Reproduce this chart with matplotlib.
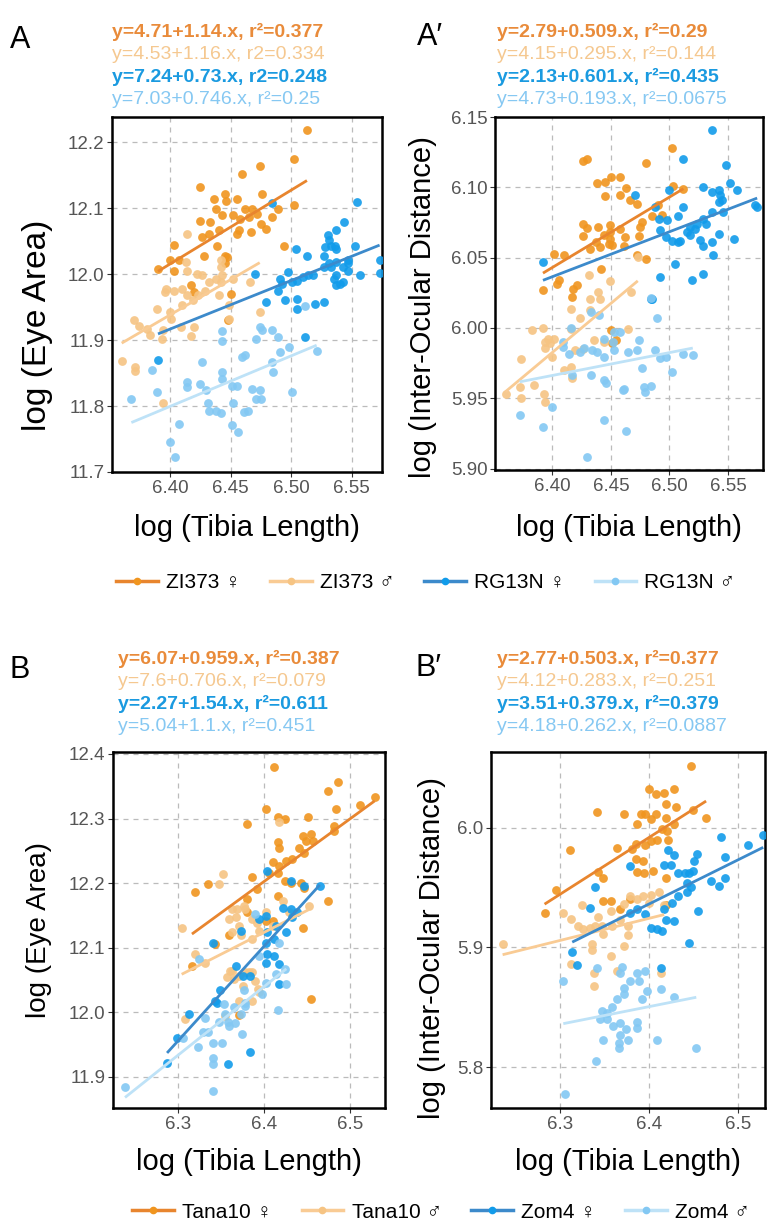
import matplotlib.pyplot as plt
import numpy as np
from matplotlib.lines import Line2D

plt.rcParams['font.family'] = ['Liberation Sans', 'DejaVu Sans']

W, H = 767, 1224

# ---- data ----
# panel A: log(Eye Area) vs log(Tibia Length)
a_zi_f = [(6.513, 12.218), (6.474, 12.164), (6.459, 12.152), (6.502, 12.174), (6.425, 12.132), (6.436, 12.114),
          (6.445, 12.122), (6.446, 12.110), (6.438, 12.099), (6.455, 12.113), (6.462, 12.099), (6.468, 12.099),
          (6.476, 12.122), (6.425, 12.081), (6.433, 12.079), (6.443, 12.089), (6.452, 12.090), (6.458, 12.084),
          (6.465, 12.086), (6.472, 12.091), (6.484, 12.086), (6.489, 12.099), (6.502, 12.104), (6.426, 12.056),
          (6.432, 12.061), (6.440, 12.066), (6.455, 12.061), (6.457, 12.066), (6.467, 12.064), (6.475, 12.076),
          (6.479, 12.069), (6.403, 12.044), (6.439, 12.042), (6.494, 12.043), (6.428, 12.028), (6.445, 12.028),
          (6.400, 12.021), (6.390, 12.008), (6.407, 12.021), (6.403, 12.005), (6.417, 11.983), (6.420, 11.973),
          (6.450, 11.970), (6.445, 12.016), (6.447, 12.026), (6.448, 11.931)]
a_zi_m = [(6.414, 12.060), (6.389, 11.947), (6.370, 11.931), (6.374, 11.922), (6.381, 11.916), (6.393, 11.902),
          (6.394, 11.915), (6.409, 11.920), (6.417, 11.906), (6.400, 11.942), (6.401, 11.932), (6.410, 11.953),
          (6.414, 11.968), (6.419, 11.960), (6.423, 11.968), (6.429, 11.975), (6.432, 11.988), (6.438, 11.993),
          (6.442, 11.988), (6.443, 11.998), (6.452, 11.992), (6.440, 11.968), (6.426, 11.998), (6.422, 12.000),
          (6.414, 12.005), (6.410, 11.978), (6.396, 11.973), (6.397, 11.978), (6.403, 11.975), (6.360, 11.868),
          (6.371, 11.859), (6.371, 11.853), (6.394, 11.804), (6.466, 11.988), (6.474, 11.942), (6.449, 11.932),
          (6.442, 12.011), (6.442, 12.021), (6.449, 11.953), (6.383, 11.907), (6.413, 12.018), (6.420, 11.920)]
a_rg_f = [(6.484, 12.108), (6.554, 12.109), (6.544, 12.079), (6.537, 12.066), (6.530, 12.059), (6.531, 12.051),
          (6.533, 12.043), (6.536, 12.043), (6.537, 12.038), (6.528, 12.041), (6.553, 12.043), (6.513, 12.028),
          (6.504, 12.038), (6.527, 12.028), (6.547, 12.022), (6.543, 12.011), (6.537, 12.018), (6.531, 12.016),
          (6.527, 12.011), (6.533, 12.011), (6.547, 12.016), (6.573, 12.021), (6.573, 12.002), (6.557, 11.998),
          (6.547, 12.004), (6.537, 11.998), (6.535, 11.993), (6.537, 11.983), (6.540, 11.985), (6.543, 11.988),
          (6.518, 11.999), (6.514, 11.998), (6.510, 11.995), (6.505, 11.990), (6.501, 11.988), (6.497, 12.003),
          (6.491, 11.993), (6.492, 11.985), (6.489, 11.975), (6.495, 11.960), (6.505, 11.962), (6.505, 11.947),
          (6.520, 11.955), (6.527, 11.957), (6.479, 11.958), (6.470, 12.000), (6.511, 11.905), (6.390, 11.869)]
a_rg_m = [(6.368, 11.811), (6.389, 11.821), (6.385, 11.854), (6.400, 11.745), (6.404, 11.723), (6.407, 11.772),
          (6.414, 11.836), (6.414, 11.829), (6.425, 11.834), (6.426, 11.867), (6.430, 11.824), (6.431, 11.805),
          (6.432, 11.793), (6.438, 11.793), (6.442, 11.789), (6.443, 11.851), (6.443, 11.841), (6.443, 11.913),
          (6.443, 11.899), (6.451, 11.831), (6.455, 11.831), (6.451, 11.771), (6.456, 11.761), (6.452, 11.804),
          (6.459, 11.874), (6.462, 11.877), (6.464, 11.793), (6.461, 11.791), (6.468, 11.826), (6.471, 11.811),
          (6.474, 11.824), (6.475, 11.811), (6.474, 11.920), (6.476, 11.915), (6.471, 11.902), (6.484, 11.915),
          (6.484, 11.867), (6.485, 11.851), (6.489, 11.905), (6.491, 11.882), (6.498, 11.889), (6.501, 11.821),
          (6.511, 11.952), (6.521, 11.883)]

# panel A': log(Inter-Ocular Distance) vs log(Tibia Length)
ap_zi_f = [(6.426, 6.1185), (6.430, 6.1204), (6.438, 6.1033), (6.445, 6.1038), (6.450, 6.1073), (6.458, 6.1073),
           (6.445, 6.0938), (6.458, 6.0948), (6.463, 6.0995), (6.466, 6.0908), (6.472, 6.0884), (6.480, 6.1175),
           (6.502, 6.1279), (6.503, 6.1009), (6.512, 6.0991), (6.490, 6.0877), (6.485, 6.0796), (6.494, 6.0801),
           (6.477, 6.0754), (6.475, 6.0718), (6.474, 6.0652), (6.462, 6.0647), (6.458, 6.0706), (6.449, 6.0730),
           (6.449, 6.0683), (6.449, 6.0635), (6.444, 6.0659), (6.439, 6.0718), (6.437, 6.0612), (6.432, 6.0564),
           (6.426, 6.0742), (6.426, 6.0654), (6.430, 6.0711), (6.441, 6.0576), (6.448, 6.0600), (6.451, 6.0593),
           (6.461, 6.0583), (6.472, 6.0522), (6.480, 6.0493), (6.401, 6.0529), (6.410, 6.0522), (6.406, 6.0339),
           (6.404, 6.0316), (6.392, 6.0268), (6.442, 6.0422), (6.418, 6.0280), (6.421, 6.0304), (6.417, 6.0221),
           (6.450, 5.9984), (6.451, 5.9890), (6.454, 5.9913)]
ap_zi_m = [(6.360, 5.9527), (6.373, 5.9778), (6.372, 5.9582), (6.373, 5.9499), (6.384, 5.9594), (6.383, 5.9984),
           (6.392, 6.0001), (6.394, 5.9854), (6.396, 5.9925), (6.394, 5.9901), (6.398, 5.9890), (6.401, 5.9925),
           (6.400, 5.9795), (6.393, 5.9527), (6.394, 5.9470), (6.410, 5.9700), (6.416, 5.9996), (6.416, 5.9724),
           (6.417, 5.9641), (6.416, 6.0138), (6.419, 5.9842), (6.424, 6.0072), (6.426, 5.9849), (6.431, 6.0375),
           (6.432, 6.0209), (6.432, 6.0126), (6.436, 5.9913), (6.439, 6.0257), (6.441, 6.0209), (6.444, 5.9901),
           (6.449, 6.0332), (6.465, 5.9991), (6.473, 6.0505), (6.467, 6.0257)]
ap_rg_f = [(6.392, 6.0470), (6.471, 6.0948), (6.488, 6.0860), (6.491, 6.0777), (6.498, 6.0766), (6.497, 6.0647),
           (6.492, 6.0695), (6.502, 6.0616), (6.507, 6.0612), (6.509, 6.0616), (6.505, 6.0458), (6.512, 6.1199),
           (6.512, 6.0860), (6.507, 6.0796), (6.500, 6.0979), (6.492, 6.0363), (6.519, 6.0339), (6.529, 6.0387),
           (6.536, 6.1405), (6.529, 6.1002), (6.536, 6.0967), (6.542, 6.0979), (6.543, 6.0948), (6.545, 6.0908),
           (6.542, 6.0896), (6.548, 6.1156), (6.552, 6.1033), (6.558, 6.0979), (6.573, 6.0872), (6.575, 6.0860),
           (6.555, 6.0635), (6.546, 6.0825), (6.536, 6.0825), (6.529, 6.0777), (6.531, 6.0742), (6.524, 6.0742),
           (6.518, 6.0718), (6.518, 6.0659), (6.526, 6.0624), (6.536, 6.0612), (6.537, 6.0517), (6.529, 6.0583),
           (6.542, 6.0671), (6.522, 6.0707), (6.515, 6.0683), (6.484, 6.0209), (6.485, 6.0205)]
ap_rg_m = [(6.372, 5.9380), (6.392, 5.9298), (6.400, 5.9440), (6.430, 5.9085), (6.463, 5.9267), (6.444, 5.9345),
           (6.444, 5.9629), (6.446, 5.9606), (6.460, 5.9558), (6.461, 5.9563), (6.433, 5.9665), (6.417, 5.9665),
           (6.409, 5.9866), (6.409, 5.9901), (6.414, 5.9818), (6.424, 5.9830), (6.427, 5.9854), (6.434, 5.9842),
           (6.438, 5.9830), (6.444, 5.9925), (6.444, 5.9795), (6.453, 5.9842), (6.452, 5.9901), (6.453, 5.9973),
           (6.458, 5.9973), (6.465, 5.9830), (6.472, 5.9842), (6.474, 5.9913), (6.477, 5.9712), (6.478, 5.9582),
           (6.479, 5.9546), (6.484, 5.9587), (6.484, 6.0210), (6.489, 6.0072), (6.488, 5.9842), (6.492, 5.9783),
           (6.497, 5.9795), (6.502, 5.9688), (6.512, 5.9818), (6.520, 5.9807), (6.433, 6.0115), (6.440, 6.0091),
           (6.416, 6.0000)]

# panel B: log(Eye Area) vs log(Tibia Length)
b_ta_f = [(6.412, 12.380), (6.475, 12.342), (6.486, 12.356), (6.529, 12.334), (6.512, 12.321), (6.484, 12.315),
          (6.402, 12.315), (6.380, 12.291), (6.416, 12.302), (6.424, 12.300), (6.451, 12.303), (6.482, 12.289),
          (6.482, 12.281), (6.445, 12.273), (6.449, 12.265), (6.455, 12.276), (6.457, 12.265), (6.441, 12.255),
          (6.447, 12.247), (6.433, 12.237), (6.426, 12.235), (6.416, 12.263), (6.418, 12.255), (6.410, 12.232),
          (6.418, 12.227), (6.406, 12.216), (6.416, 12.216), (6.424, 12.204), (6.431, 12.201), (6.443, 12.201),
          (6.447, 12.193), (6.386, 12.209), (6.392, 12.191), (6.416, 12.180), (6.380, 12.175), (6.380, 12.155),
          (6.335, 12.198), (6.320, 12.186), (6.475, 12.173), (6.445, 12.131), (6.402, 12.142), (6.410, 12.142),
          (6.359, 12.119), (6.316, 12.072), (6.343, 12.106), (6.371, 11.996), (6.455, 12.020)]
b_ta_m = [(6.304, 12.130), (6.347, 12.198), (6.352, 12.214), (6.418, 12.295), (6.422, 12.173), (6.363, 12.160),
          (6.369, 12.160), (6.367, 12.147), (6.377, 12.164), (6.378, 12.160), (6.359, 12.144), (6.371, 12.134),
          (6.386, 12.144), (6.392, 12.139), (6.363, 12.124), (6.373, 12.119), (6.386, 12.113), (6.394, 12.126),
          (6.402, 12.155), (6.410, 12.134), (6.429, 12.155), (6.320, 12.090), (6.331, 12.077), (6.357, 12.054),
          (6.363, 12.064), (6.375, 12.041), (6.382, 12.062), (6.390, 12.049), (6.394, 12.031), (6.386, 12.018),
          (6.371, 12.018), (6.308, 11.990), (6.354, 11.995), (6.360, 12.064), (6.371, 12.057), (6.378, 12.062),
          (6.386, 12.062), (6.365, 12.052), (6.393, 12.036), (6.452, 12.165)]
b_zo_f = [(6.404, 12.219), (6.431, 12.204), (6.447, 12.196), (6.465, 12.195), (6.422, 12.162), (6.431, 12.160),
          (6.439, 12.155), (6.433, 12.147), (6.394, 12.145), (6.402, 12.149), (6.414, 12.134), (6.426, 12.125),
          (6.404, 12.124), (6.412, 12.113), (6.402, 12.108), (6.404, 12.090), (6.412, 12.088), (6.418, 12.075),
          (6.402, 12.077), (6.341, 12.108), (6.373, 12.126), (6.367, 12.072), (6.384, 12.057), (6.375, 12.057),
          (6.349, 12.034), (6.343, 12.018), (6.418, 12.044), (6.299, 11.960), (6.312, 11.998), (6.287, 11.921),
          (6.345, 12.014), (6.358, 11.920), (6.384, 11.938)]
b_zo_m = [(6.324, 12.082), (6.394, 12.088), (6.418, 12.108), (6.424, 12.067), (6.414, 12.059), (6.426, 12.044),
          (6.402, 12.046), (6.398, 12.028), (6.377, 12.034), (6.378, 12.015), (6.365, 12.008), (6.353, 12.013),
          (6.355, 11.997), (6.347, 11.985), (6.335, 11.969), (6.359, 11.979), (6.331, 11.992), (6.416, 12.003),
          (6.390, 12.153), (6.238, 11.884), (6.341, 11.878), (6.340, 11.930), (6.340, 11.920), (6.323, 11.947),
          (6.351, 11.952), (6.340, 11.952), (6.374, 11.967), (6.366, 11.983), (6.358, 11.985), (6.378, 12.010),
          (6.329, 11.969), (6.306, 11.961), (6.373, 11.997)]

# panel B': log(Inter-Ocular Distance) vs log(Tibia Length)
bp_ta_f = [(6.283, 5.929), (6.296, 5.948), (6.311, 5.981), (6.342, 6.013), (6.343, 5.963), (6.349, 5.958),
           (6.364, 5.983), (6.372, 6.011), (6.385, 5.986), (6.381, 5.982), (6.385, 5.974), (6.396, 6.011),
           (6.387, 6.003), (6.391, 6.011), (6.400, 6.032), (6.402, 6.007), (6.408, 6.011), (6.408, 6.028),
           (6.417, 6.029), (6.419, 6.020), (6.419, 6.008), (6.415, 5.999), (6.420, 5.997), (6.421, 5.990),
           (6.409, 5.990), (6.402, 5.989), (6.396, 5.985), (6.428, 6.032), (6.430, 6.017), (6.428, 6.003),
           (6.447, 6.051), (6.449, 6.015), (6.464, 6.008), (6.387, 5.963), (6.394, 5.962), (6.404, 5.964),
           (6.393, 5.972), (6.419, 5.958), (6.349, 5.939), (6.357, 5.939), (6.368, 5.932), (6.379, 5.940),
           (6.419, 5.935)]
bp_ta_m = [(6.236, 5.903), (6.313, 5.886), (6.325, 5.935), (6.313, 5.924), (6.321, 5.918), (6.326, 5.915),
           (6.334, 5.916), (6.340, 5.918), (6.343, 5.925), (6.347, 5.918), (6.349, 5.911), (6.336, 5.903),
           (6.336, 5.898), (6.338, 5.879), (6.338, 5.868), (6.357, 5.893), (6.359, 5.918), (6.357, 5.930),
           (6.368, 5.923), (6.377, 5.918), (6.376, 5.910), (6.372, 5.901), (6.379, 5.943), (6.387, 5.940),
           (6.393, 5.943), (6.402, 5.944), (6.411, 5.946), (6.400, 5.937), (6.417, 5.935), (6.372, 5.936),
           (6.364, 5.880), (6.413, 5.879), (6.304, 5.929)]
bp_zo_f = [(6.379, 5.968), (6.340, 5.950), (6.334, 5.933), (6.314, 5.896), (6.319, 5.885), (6.413, 5.883),
           (6.445, 5.904), (6.379, 5.929), (6.387, 5.932), (6.396, 5.928), (6.402, 5.916), (6.409, 5.915),
           (6.415, 5.914), (6.419, 5.923), (6.428, 5.922), (6.417, 5.932), (6.426, 5.937), (6.433, 5.943),
           (6.421, 5.981), (6.428, 5.977), (6.417, 5.969), (6.425, 5.969), (6.432, 5.962), (6.440, 5.962),
           (6.445, 5.962), (6.449, 5.964), (6.451, 5.972), (6.443, 5.954), (6.443, 5.946), (6.447, 5.950),
           (6.454, 5.978), (6.455, 5.930), (6.470, 5.955), (6.479, 5.951), (6.481, 5.992), (6.485, 5.975),
           (6.485, 5.958), (6.511, 5.985), (6.528, 5.994)]
bp_zo_m = [(6.304, 5.872), (6.342, 5.883), (6.370, 5.884), (6.368, 5.879), (6.387, 5.879), (6.396, 5.880),
           (6.389, 5.872), (6.379, 5.872), (6.372, 5.866), (6.398, 5.864), (6.413, 5.865), (6.372, 5.861),
           (6.364, 5.857), (6.359, 5.850), (6.353, 5.845), (6.347, 5.847), (6.345, 5.840), (6.353, 5.840),
           (6.360, 5.834), (6.368, 5.837), (6.374, 5.832), (6.368, 5.827), (6.349, 5.823), (6.366, 5.820),
           (6.366, 5.816), (6.376, 5.823), (6.387, 5.838), (6.387, 5.833), (6.409, 5.823), (6.428, 5.859),
           (6.453, 5.816), (6.306, 5.778), (6.392, 5.857), (6.341, 5.805)]

# equation labels printed above each panel (female bold, male plain)
eq_a = ["y=4.71+1.14.x, r\u00b2=0.377", "y=4.53+1.16.x, r2=0.334",
        "y=7.24+0.73.x, r2=0.248", "y=7.03+0.746.x, r\u00b2=0.25"]
eq_ap = ["y=2.79+0.509.x, r\u00b2=0.29", "y=4.15+0.295.x, r\u00b2=0.144",
         "y=2.13+0.601.x, r\u00b2=0.435", "y=4.73+0.193.x, r\u00b2=0.0675"]
eq_b = ["y=6.07+0.959.x, r\u00b2=0.387", "y=7.6+0.706.x, r\u00b2=0.079",
        "y=2.27+1.54.x, r\u00b2=0.611", "y=5.04+1.1.x, r\u00b2=0.451"]
eq_bp = ["y=2.77+0.503.x, r\u00b2=0.377", "y=4.12+0.283.x, r\u00b2=0.251",
         "y=3.51+0.379.x, r\u00b2=0.379", "y=4.18+0.262.x, r\u00b2=0.0887"]

top_labels = ["ZI373 \u2640", "ZI373 \u2642", "RG13N \u2640", "RG13N \u2642"]
bottom_labels = ["Tana10 \u2640", "Tana10 \u2642", "Zom4 \u2640", "Zom4 \u2642"]

# colours: dark orange, light orange, dark blue, light blue
pt_colors = ["#F0951F", "#F6C483", "#119BEA", "#83C8F3"]
ln_colors = ["#E8852E", "#F9CB94", "#3C8ACB", "#BEE2F7"]
eq_colors = ["#E98B3A", "#F5C890", "#1A9AE0", "#86C8F2"]
eq_weights = ["bold", "normal", "bold", "normal"]


def fx(px):
    return px / W


def fy(py):
    return 1 - py / H


def draw_panel(box, series, xlim, ylim, xticks, yticks, xfmt, yfmt,
               ylabel, ylabel_size, ylabel_pos, xlabel_y):
    l, t, r, b = box
    ax = fig.add_axes([fx(l), fy(b), (r - l) / W, (b - t) / H])
    for pts, pc in zip(series, pt_colors):
        x, y = np.array(pts).T
        ax.scatter(x, y, s=40, color=pc, alpha=0.9, linewidths=0, zorder=3)
    # least-squares line for each group, over its own x range
    for pts, lc in zip(series, ln_colors):
        x, y = np.array(pts).T
        slope, icpt = np.polyfit(x, y, 1)
        xs = np.array([x.min(), x.max()])
        ax.plot(xs, icpt + slope * xs, color=lc, lw=2.0, zorder=4, solid_capstyle='butt')
    ax.set_xlim(*xlim)
    ax.set_ylim(*ylim)
    ax.set_xticks(xticks)
    ax.set_yticks(yticks)
    ax.set_xticklabels([xfmt % v for v in xticks])
    ax.set_yticklabels([yfmt % v for v in yticks])
    ax.grid(True, ls=(0, (4, 4)), color="#BBBBBB", lw=0.9)
    ax.set_axisbelow(True)
    for s in ax.spines.values():
        s.set_linewidth(1.8)
        s.set_color("black")
    ax.tick_params(length=3.5, width=0.8, color="#333333", labelcolor="#555555",
                   labelsize=13.5, pad=2)
    ax.set_xlabel("log (Tibia Length)", fontsize=21, va="center")
    ax.xaxis.set_label_coords(0.5, (b - xlabel_y) / (b - t))
    ax.set_ylabel(ylabel, fontsize=ylabel_size, va="center", ha="center")
    ax.yaxis.set_label_coords((ylabel_pos[0] - l) / (r - l), (b - ylabel_pos[1]) / (b - t))
    return ax


def draw_equations(x0, y0, texts):
    for i, (txt, c, w) in enumerate(zip(texts, eq_colors, eq_weights)):
        fig.text(fx(x0), fy(y0 + i * 22.5), txt, color=c, fontweight=w,
                 fontsize=14, ha="left", va="center")


fig = plt.figure(figsize=(W / 100, H / 100), dpi=100, facecolor="white")

draw_panel((112, 117, 382, 472), [a_zi_f, a_zi_m, a_rg_f, a_rg_m],
           (6.352, 6.575), (11.7, 12.238), [6.40, 6.45, 6.50, 6.55],
           [11.7, 11.8, 11.9, 12.0, 12.1, 12.2], "%.2f", "%.1f",
           "log (Eye Area)", 24, (38, 325), 528)
draw_panel((495, 117, 763, 470), [ap_zi_f, ap_zi_m, ap_rg_f, ap_rg_m],
           (6.351, 6.58), (5.899, 6.15), [6.40, 6.45, 6.50, 6.55],
           [5.90, 5.95, 6.00, 6.05, 6.10, 6.15], "%.2f", "%.2f",
           "log (Inter-Ocular Distance)", 21, (423, 307), 528)
draw_panel((113, 752, 385, 1108), [b_ta_f, b_ta_m, b_zo_f, b_zo_m],
           (6.224, 6.541), (11.852, 12.403), [6.3, 6.4, 6.5],
           [11.9, 12.0, 12.1, 12.2, 12.3, 12.4], "%.1f", "%.1f",
           "log (Eye Area)", 20, (39, 930), 1162)
draw_panel((491, 752, 765, 1108), [bp_ta_f, bp_ta_m, bp_zo_f, bp_zo_m],
           (6.223, 6.53), (5.766, 6.063), [6.3, 6.4, 6.5],
           [5.8, 5.9, 6.0], "%.1f", "%.1f",
           "log (Inter-Ocular Distance)", 21, (432, 948), 1162)

draw_equations(112, 32, eq_a)
draw_equations(497, 32, eq_ap)
draw_equations(118, 659, eq_b)
draw_equations(497, 659, eq_bp)

for txt, px, py in [("A", 20, 40), ("A\u2032", 430, 37), ("B", 20, 670), ("B\u2032", 428, 668)]:
    fig.text(fx(px), fy(py), txt, fontsize=22, ha="center", va="center")

handles = [Line2D([], [], color=lc, lw=2.5, marker="o", markersize=4.5,
                  markerfacecolor=pc, markeredgecolor=pc)
           for lc, pc in zip(ln_colors, pt_colors)]
fig.legend(handles, top_labels, loc="center", bbox_to_anchor=(fx(426), fy(583)),
           ncol=4, frameon=False, fontsize=15, handlelength=2.0,
           handletextpad=0.4, columnspacing=1.4)
fig.legend(handles, bottom_labels, loc="center", bbox_to_anchor=(fx(441), fy(1212)),
           ncol=4, frameon=False, fontsize=15, handlelength=2.0,
           handletextpad=0.4, columnspacing=1.4)

fig.savefig("out.png", dpi=100, facecolor="white")
